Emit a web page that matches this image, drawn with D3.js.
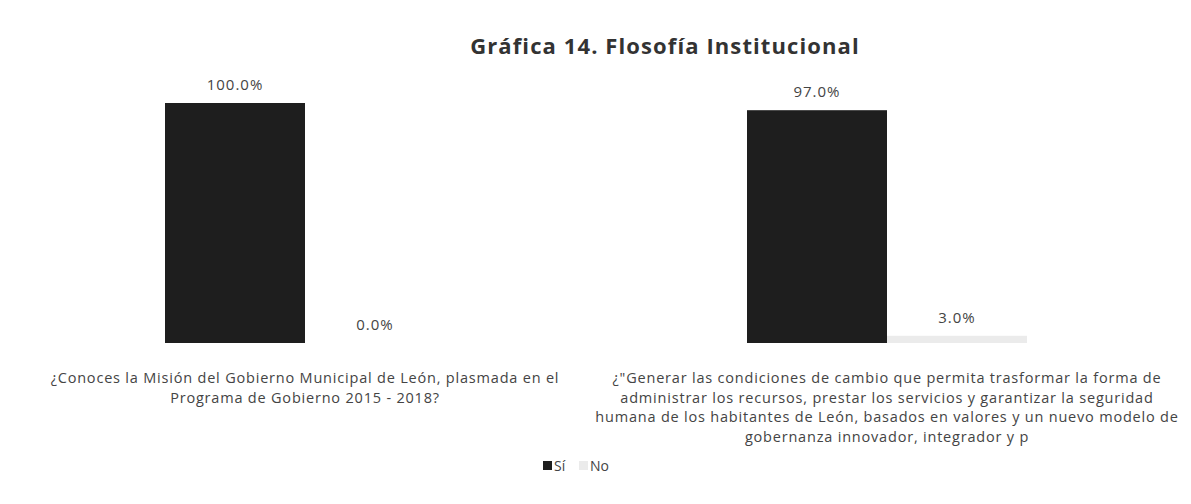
<!DOCTYPE html>
<html><head><meta charset="utf-8">
<script src="https://cdn.jsdelivr.net/npm/d3@7"></script>
<style>body{margin:0;background:#fff}svg{display:block}</style>
</head><body>
<svg id="c" width="1191" height="504"></svg>
<script>
const categories = [
  ["¿Conoces la Misión del Gobierno Municipal de León, plasmada en el", "Programa de Gobierno 2015 - 2018?"],
  ["¿\"Generar las condiciones de cambio que permita trasformar la forma de", "administrar los recursos, prestar los servicios y garantizar la seguridad", "humana de los habitantes de León, basados en valores y un nuevo modelo de", "gobernanza innovador, integrador y p"]
];
const seriesNames = ["Sí", "No"];
const siValues = [100.0, 97.0];
const noValues = [0.0, 3.0];
const title = "Gráfica 14. Flosofía Institucional";

const colors = {"Sí": "#1e1e1e", "No": "#ebebeb"};
const svg = d3.select("#c");
const font = "'Open Sans', 'DejaVu Sans', sans-serif";

const x0 = d3.scaleBand().domain([0, 1]).range([14, 1178]).paddingInner(0).paddingOuter(0);
const x1 = d3.scaleBand().domain(seriesNames).range([x0.bandwidth()/2 - 140, x0.bandwidth()/2 + 140]);
const y = d3.scaleLinear().domain([0, 100]).range([343, 103]);

const data = [];
categories.forEach((c, i) => {
  data.push({cat: i, s: "Sí", v: siValues[i]});
  data.push({cat: i, s: "No", v: noValues[i]});
});

svg.append("text").attr("x", 665).attr("y", 54).attr("text-anchor", "middle")
  .attr("font-family", font).attr("font-weight", "bold").attr("font-size", 22)
  .attr("letter-spacing", 1.1)
  .attr("fill", "#333").text(title);

const g = svg.append("g");
g.selectAll("rect.bar").data(data).join("rect").attr("class", "bar")
  .attr("x", d => x0(d.cat) + x1(d.s))
  .attr("width", x1.bandwidth())
  .attr("y", d => y(d.v))
  .attr("height", d => y(0) - y(d.v))
  .attr("fill", d => colors[d.s]);

g.selectAll("text.lab").data(data).join("text").attr("class", "lab")
  .attr("x", d => x0(d.cat) + x1(d.s) + x1.bandwidth()/2)
  .attr("y", d => y(d.v) - 13)
  .attr("text-anchor", "middle").attr("font-family", font).attr("font-size", 15)
  .attr("letter-spacing", 1)
  .attr("fill", "#444").text(d => d.v.toFixed(1) + "%");

categories.forEach((lines, i) => {
  const t = svg.append("text").attr("text-anchor", "middle")
    .attr("font-family", font).attr("font-size", 14.5).attr("letter-spacing", 0.8)
    .attr("fill", "#444");
  lines.forEach((l, j) => {
    t.append("tspan").attr("x", x0(i) + x0.bandwidth()/2).attr("y", 383 + j * 19.5).text(l);
  });
});

const lg = svg.append("g").attr("transform", "translate(543,461)");
const lx = [0, 36];
seriesNames.forEach((s, i) => {
  lg.append("rect").attr("x", lx[i]).attr("y", 0).attr("width", 9).attr("height", 9).attr("fill", colors[s]);
  lg.append("text").attr("x", lx[i] + 11).attr("y", 10).attr("font-family", font)
    .attr("font-size", 14).attr("fill", "#444").text(s);
});
</script>
</body></html>
